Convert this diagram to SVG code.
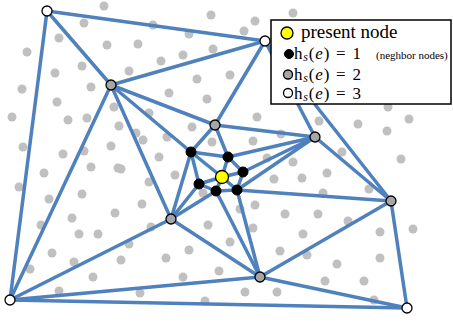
<svg xmlns="http://www.w3.org/2000/svg" width="453" height="322" viewBox="0 0 453 322">
<style>
.dot{fill:#c0c0c0}
.e{stroke:#4f81bd;stroke-width:3.5;stroke-linecap:round;fill:none}
.w{fill:#ffffff;stroke:#000;stroke-width:1.3}
.g{fill:#a6a6a6;stroke:#000;stroke-width:1.3}
.b{fill:#000;stroke:#000;stroke-width:1}
.y{fill:#ffff00;stroke:#000;stroke-width:1.3}
.t{font-family:"Liberation Serif","DejaVu Serif",serif;font-size:19px;fill:#000}
.h{font-family:"Liberation Serif","DejaVu Serif",serif;font-size:17px;letter-spacing:0.8px;fill:#000}
.sm{font-family:"Liberation Serif","DejaVu Serif",serif;font-size:11px;fill:#000}
.sub{font-style:italic;font-size:12px}
.it{font-style:italic}
</style>
<rect width="453" height="322" fill="#fff"/>
<g id="background-dots">
<circle class="dot" cx="104" cy="6" r="4.5"/><circle class="dot" cx="84" cy="23" r="4.5"/><circle class="dot" cx="59" cy="38" r="4.5"/><circle class="dot" cx="27" cy="52" r="4.5"/><circle class="dot" cx="107" cy="45" r="4.5"/><circle class="dot" cx="82" cy="66" r="4.5"/><circle class="dot" cx="55" cy="73" r="4.5"/><circle class="dot" cx="91" cy="87" r="4.5"/><circle class="dot" cx="22" cy="89" r="4.5"/><circle class="dot" cx="57" cy="102" r="4.5"/><circle class="dot" cx="114" cy="107" r="4.5"/><circle class="dot" cx="12" cy="117" r="4.5"/><circle class="dot" cx="68" cy="120" r="4.5"/><circle class="dot" cx="87" cy="118" r="4.5"/><circle class="dot" cx="119" cy="126" r="4.5"/><circle class="dot" cx="23" cy="147" r="4.5"/><circle class="dot" cx="63" cy="154" r="4.5"/><circle class="dot" cx="84" cy="151" r="4.5"/><circle class="dot" cx="111" cy="146" r="4.5"/><circle class="dot" cx="91" cy="167" r="4.5"/><circle class="dot" cx="118" cy="168" r="4.5"/><circle class="dot" cx="44" cy="173" r="4.5"/><circle class="dot" cx="19" cy="187" r="4.5"/><circle class="dot" cx="49" cy="199" r="4.5"/><circle class="dot" cx="82" cy="194" r="4.5"/><circle class="dot" cx="41" cy="225" r="4.5"/><circle class="dot" cx="72" cy="218" r="4.5"/><circle class="dot" cx="115" cy="213" r="4.5"/><circle class="dot" cx="79" cy="234" r="4.5"/><circle class="dot" cx="98" cy="234" r="4.5"/><circle class="dot" cx="52" cy="253" r="4.5"/><circle class="dot" cx="30" cy="269" r="4.5"/><circle class="dot" cx="74" cy="262" r="4.5"/><circle class="dot" cx="121" cy="260" r="4.5"/><circle class="dot" cx="93" cy="277" r="4.5"/><circle class="dot" cx="59" cy="291" r="4.5"/>
<circle class="dot" cx="211" cy="15" r="4.5"/><circle class="dot" cx="153" cy="25" r="4.5"/><circle class="dot" cx="189" cy="34" r="4.5"/><circle class="dot" cx="138" cy="44" r="4.5"/><circle class="dot" cx="213" cy="49" r="4.5"/><circle class="dot" cx="161" cy="61" r="4.5"/><circle class="dot" cx="183" cy="55" r="4.5"/><circle class="dot" cx="129" cy="71" r="4.5"/><circle class="dot" cx="197" cy="79" r="4.5"/><circle class="dot" cx="230" cy="75" r="4.5"/><circle class="dot" cx="169" cy="93" r="4.5"/><circle class="dot" cx="207" cy="99" r="4.5"/><circle class="dot" cx="149" cy="113" r="4.5"/><circle class="dot" cx="192" cy="127" r="4.5"/><circle class="dot" cx="212" cy="142" r="4.5"/><circle class="dot" cx="136" cy="133" r="4.5"/><circle class="dot" cx="143" cy="140" r="4.5"/><circle class="dot" cx="167" cy="137" r="4.5"/><circle class="dot" cx="159" cy="157" r="4.5"/>
<circle class="dot" cx="121" cy="169" r="4.5"/><circle class="dot" cx="149" cy="182" r="4.5"/><circle class="dot" cx="175" cy="175" r="4.5"/><circle class="dot" cx="142" cy="204" r="4.5"/><circle class="dot" cx="151" cy="227" r="4.5"/><circle class="dot" cx="129" cy="244" r="4.5"/><circle class="dot" cx="208" cy="225" r="4.5"/><circle class="dot" cx="203" cy="193" r="4.5"/><circle class="dot" cx="230" cy="242" r="4.5"/><circle class="dot" cx="189" cy="250" r="4.5"/><circle class="dot" cx="166" cy="258" r="4.5"/><circle class="dot" cx="183" cy="277" r="4.5"/><circle class="dot" cx="219" cy="271" r="4.5"/><circle class="dot" cx="140" cy="293" r="4.5"/><circle class="dot" cx="205" cy="301" r="4.5"/>
<circle class="dot" cx="409" cy="119" r="4.5"/><circle class="dot" cx="358" cy="124" r="4.5"/><circle class="dot" cx="387" cy="131" r="4.5"/><circle class="dot" cx="319" cy="121" r="4.5"/><circle class="dot" cx="253" cy="141" r="4.5"/><circle class="dot" cx="281" cy="134" r="4.5"/><circle class="dot" cx="342" cy="152" r="4.5"/><circle class="dot" cx="401" cy="159" r="4.5"/><circle class="dot" cx="267" cy="158" r="4.5"/><circle class="dot" cx="293" cy="162" r="4.5"/><circle class="dot" cx="327" cy="173" r="4.5"/><circle class="dot" cx="302" cy="178" r="4.5"/><circle class="dot" cx="274" cy="179" r="4.5"/><circle class="dot" cx="369" cy="189" r="4.5"/><circle class="dot" cx="323" cy="193" r="4.5"/><circle class="dot" cx="255" cy="205" r="4.5"/><circle class="dot" cx="240" cy="209" r="4.5"/><circle class="dot" cx="285" cy="214" r="4.5"/><circle class="dot" cx="318" cy="214" r="4.5"/><circle class="dot" cx="348" cy="221" r="4.5"/><circle class="dot" cx="380" cy="232" r="4.5"/><circle class="dot" cx="413" cy="229" r="4.5"/><circle class="dot" cx="253" cy="228" r="4.5"/><circle class="dot" cx="303" cy="234" r="4.5"/><circle class="dot" cx="280" cy="251" r="4.5"/><circle class="dot" cx="307" cy="255" r="4.5"/><circle class="dot" cx="337" cy="264" r="4.5"/><circle class="dot" cx="380" cy="258" r="4.5"/><circle class="dot" cx="325" cy="281" r="4.5"/><circle class="dot" cx="364" cy="281" r="4.5"/><circle class="dot" cx="245" cy="292" r="4.5"/><circle class="dot" cx="277" cy="292" r="4.5"/><circle class="dot" cx="374" cy="300" r="4.5"/>
<circle class="dot" cx="255" cy="21" r="4.5"/><circle class="dot" cx="244" cy="31" r="4.5"/><circle class="dot" cx="257" cy="117" r="4.5"/><circle class="dot" cx="293" cy="13" r="4.5"/><circle class="dot" cx="388" cy="107" r="4.5"/><circle class="dot" cx="295" cy="92" r="4.5"/>
</g>
<g id="connectors">
<line class="e" x1="47" y1="11" x2="265" y2="41"/>
<line class="e" x1="47" y1="11" x2="111" y2="85"/>
<line class="e" x1="47" y1="11" x2="10" y2="300"/>
<line class="e" x1="265" y1="41" x2="111" y2="85"/>
<line class="e" x1="265" y1="41" x2="215" y2="125"/>
<line class="e" x1="265" y1="41" x2="315" y2="137"/>
<line class="e" x1="265" y1="41" x2="391" y2="201"/>
<line class="e" x1="111" y1="85" x2="215" y2="125"/>
<line class="e" x1="111" y1="85" x2="191" y2="152"/>
<line class="e" x1="111" y1="85" x2="171" y2="219"/>
<line class="e" x1="111" y1="85" x2="10" y2="300"/>
<line class="e" x1="215" y1="125" x2="315" y2="137"/>
<line class="e" x1="215" y1="125" x2="191" y2="152"/>
<line class="e" x1="215" y1="125" x2="228" y2="157"/>
<line class="e" x1="315" y1="137" x2="228" y2="157"/>
<line class="e" x1="315" y1="137" x2="243" y2="172"/>
<line class="e" x1="315" y1="137" x2="237" y2="190"/>
<line class="e" x1="315" y1="137" x2="391" y2="201"/>
<line class="e" x1="391" y1="201" x2="237" y2="190"/>
<line class="e" x1="391" y1="201" x2="260" y2="277"/>
<line class="e" x1="391" y1="201" x2="407" y2="308"/>
<line class="e" x1="171" y1="219" x2="191" y2="152"/>
<line class="e" x1="171" y1="219" x2="199" y2="184"/>
<line class="e" x1="171" y1="219" x2="216" y2="191"/>
<line class="e" x1="171" y1="219" x2="260" y2="277"/>
<line class="e" x1="171" y1="219" x2="10" y2="300"/>
<line class="e" x1="260" y1="277" x2="216" y2="191"/>
<line class="e" x1="260" y1="277" x2="237" y2="190"/>
<line class="e" x1="260" y1="277" x2="10" y2="300"/>
<line class="e" x1="260" y1="277" x2="407" y2="308"/>
<line class="e" x1="10" y1="300" x2="407" y2="308"/>
<line class="e" x1="222" y1="177" x2="191" y2="152"/>
<line class="e" x1="222" y1="177" x2="228" y2="157"/>
<line class="e" x1="222" y1="177" x2="243" y2="172"/>
<line class="e" x1="222" y1="177" x2="237" y2="190"/>
<line class="e" x1="222" y1="177" x2="216" y2="191"/>
<line class="e" x1="222" y1="177" x2="199" y2="184"/>
<line class="e" x1="191" y1="152" x2="228" y2="157"/>
<line class="e" x1="228" y1="157" x2="243" y2="172"/>
<line class="e" x1="243" y1="172" x2="237" y2="190"/>
<line class="e" x1="237" y1="190" x2="216" y2="191"/>
<line class="e" x1="216" y1="191" x2="199" y2="184"/>
<line class="e" x1="199" y1="184" x2="191" y2="152"/>
</g>
<g id="node-A"><circle class="w" cx="47" cy="11" r="5"/></g>
<g id="node-B"><circle class="w" cx="265" cy="41" r="5"/></g>
<g id="node-C"><circle class="w" cx="10" cy="300" r="5"/></g>
<g id="node-D"><circle class="w" cx="407" cy="308" r="5"/></g>
<g id="node-E"><circle class="g" cx="111" cy="85" r="5"/></g>
<g id="node-F"><circle class="g" cx="215" cy="125" r="5"/></g>
<g id="node-G"><circle class="g" cx="315" cy="137" r="5"/></g>
<g id="node-H"><circle class="g" cx="391" cy="201" r="5"/></g>
<g id="node-I"><circle class="g" cx="171" cy="219" r="5"/></g>
<g id="node-J"><circle class="g" cx="260" cy="277" r="5"/></g>
<g id="node-b1"><circle class="b" cx="191" cy="152" r="5"/></g>
<g id="node-b2"><circle class="b" cx="228" cy="157" r="5"/></g>
<g id="node-b3"><circle class="b" cx="243" cy="172" r="5"/></g>
<g id="node-b4"><circle class="b" cx="237" cy="190" r="5"/></g>
<g id="node-b5"><circle class="b" cx="216" cy="191" r="5"/></g>
<g id="node-b6"><circle class="b" cx="199" cy="184" r="5"/></g>
<g id="node-present"><circle class="y" cx="222" cy="177" r="6.5"/></g>
<g id="legend">
<rect x="271" y="20" width="180" height="84" fill="#fff" stroke="#000" stroke-width="1.5"/>
<circle class="y" cx="287" cy="33" r="6"/>
<text class="t" x="301" y="38">present node</text>
<circle class="b" cx="289" cy="54" r="4.5"/>
<text class="h" x="294" y="59">h<tspan class="sub" dy="2">s</tspan><tspan dy="-2">(</tspan><tspan class="it">e</tspan>)<tspan dx="6">=</tspan><tspan dx="6">1</tspan></text>
<text class="sm" x="376" y="59">(neghbor nodes)</text>
<circle class="g" cx="288" cy="74.5" r="4.5"/>
<text class="h" x="294" y="79.5">h<tspan class="sub" dy="2">s</tspan><tspan dy="-2">(</tspan><tspan class="it">e</tspan>)<tspan dx="6">=</tspan><tspan dx="6">2</tspan></text>
<circle class="w" cx="288" cy="93" r="4.5"/>
<text class="h" x="294" y="99">h<tspan class="sub" dy="2">s</tspan><tspan dy="-2">(</tspan><tspan class="it">e</tspan>)<tspan dx="6">=</tspan><tspan dx="6">3</tspan></text>
</g>
</svg>
